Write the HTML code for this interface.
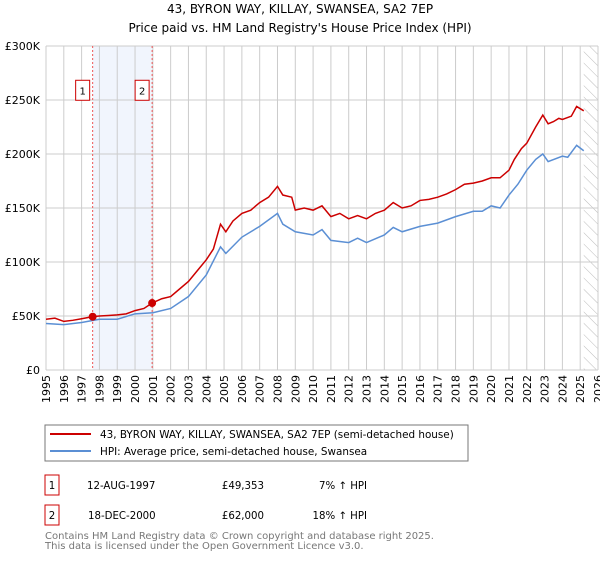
<!DOCTYPE html>
<html><head><meta charset="utf-8"><style>
body{margin:0;background:#fff;font-family:"DejaVu Sans","Liberation Sans",sans-serif;}
svg text{font-family:"DejaVu Sans","Liberation Sans",sans-serif;}
</style></head><body>
<svg id="chart" width="600" height="560" xmlns="http://www.w3.org/2000/svg">
<defs><pattern id="hatch" width="8" height="8" patternUnits="userSpaceOnUse" patternTransform="rotate(-45)"><line x1="0" y1="0" x2="0" y2="8" stroke="#bbb" stroke-width="1"/></pattern></defs>
<text x="300" y="13" text-anchor="middle" font-size="12">43, BYRON WAY, KILLAY, SWANSEA, SA2 7EP</text>
<text x="300" y="32" text-anchor="middle" font-size="12">Price paid vs. HM Land Registry's House Price Index (HPI)</text>
<g id="grid"></g><g id="marks"></g><g id="axes"></g>
<rect x="45" y="425" width="423" height="36" fill="#fff" stroke="#777"/>
<line x1="50" y1="434" x2="91" y2="434" stroke="#cc0000" stroke-width="2"/>
<text x="100" y="438" font-size="10.4">43, BYRON WAY, KILLAY, SWANSEA, SA2 7EP (semi-detached house)</text>
<line x1="50" y1="451" x2="91" y2="451" stroke="#5b8fd4" stroke-width="2"/>
<text x="100" y="455" font-size="10.4">HPI: Average price, semi-detached house, Swansea</text>
<g font-size="10.2">
<rect x="45" y="475" width="14" height="20" fill="none" stroke="#cc0000"/><text x="52" y="489" text-anchor="middle">1</text>
<text x="87" y="489">12-AUG-1997</text><text x="264" y="489" text-anchor="end">£49,353</text><text x="367" y="489" text-anchor="end">7% ↑ HPI</text>
<rect x="45" y="505" width="14" height="20" fill="none" stroke="#cc0000"/><text x="52" y="519" text-anchor="middle">2</text>
<text x="88" y="519">18-DEC-2000</text><text x="264" y="519" text-anchor="end">£62,000</text><text x="367" y="519" text-anchor="end">18% ↑ HPI</text>
</g>
<text x="45" y="539" font-size="10" fill="#777">Contains HM Land Registry data © Crown copyright and database right 2025.</text>
<text x="45" y="549" font-size="10" fill="#777">This data is licensed under the Open Government Licence v3.0.</text>
</svg>
<script>
const years=[1995,1996,1997,1998,1999,2000,2001,2002,2003,2004,2005,2006,2007,2008,2009,2010,2011,2012,2013,2014,2015,2016,2017,2018,2019,2020,2021,2022,2023,2024,2025,2026];
const yTicks=[0,50000,100000,150000,200000,250000,300000];
const yTickLabels=["£0","£50K","£100K","£150K","£200K","£250K","£300K"];
const saleDates=[1997.62,2000.96];
const salePrices=[49353,62000];
const saleLabels=["1","2"];
const redT=[1995,1995.5,1996,1996.5,1997,1997.62,1998,1998.5,1999,1999.5,2000,2000.5,2000.96,2001.5,2002,2002.5,2003,2003.5,2004,2004.4,2004.8,2005.1,2005.5,2006,2006.5,2007,2007.5,2008,2008.3,2008.8,2009,2009.5,2010,2010.5,2011,2011.5,2012,2012.5,2013,2013.5,2014,2014.5,2015,2015.5,2016,2016.5,2017,2017.5,2018,2018.5,2019,2019.5,2020,2020.5,2021,2021.3,2021.7,2022,2022.5,2022.9,2023.2,2023.5,2023.8,2024,2024.5,2024.8,2025.2];
const redV=[47,48,45,46,47.5,49.4,50,50.5,51,52,55,57,62,66,68,75,82,92,102,112,135,128,138,145,148,155,160,170,162,160,148,150,148,152,142,145,140,143,140,145,148,155,150,152,157,158,160,163,167,172,173,175,178,178,185,195,205,210,225,236,228,230,233,232,235,244,240];
const blueT=[1995,1996,1997,1998,1999,2000,2001,2002,2003,2004,2004.8,2005.1,2006,2007,2008,2008.3,2009,2010,2010.5,2011,2012,2012.5,2013,2014,2014.5,2015,2016,2017,2018,2019,2019.5,2020,2020.5,2021,2021.5,2022,2022.5,2022.9,2023.2,2024,2024.3,2024.8,2025.2];
const blueV=[43,42,44,47,47,52,53,57,68,88,114,108,123,133,145,135,128,125,130,120,118,122,118,125,132,128,133,136,142,147,147,152,150,162,172,185,195,200,193,198,197,208,203];
const L=46,R=598,T=46,B=370;
const x=t=>L+(t-1995)/(2026-1995)*(R-L);
const y=v=>B-v/300000*(B-T);
const NS="http://www.w3.org/2000/svg";
function mk(p,tag,a){const e=document.createElementNS(NS,tag);for(const k in a)e.setAttribute(k,a[k]);p.appendChild(e);return e;}
const grid=document.getElementById('grid'),marks=document.getElementById('marks'),axes=document.getElementById('axes');
const sh=mk(grid,'rect',{x:x(saleDates[0]),y:T,width:x(saleDates[1])-x(saleDates[0]),height:B-T,fill:'#eef3fc',opacity:0.8});


const ht=mk(grid,'rect',{x:x(2025.2),y:T,width:R-x(2025.2),height:B-T,fill:'url(#hatch)'});


years.forEach(yr=>{const g=mk(grid,'line',{x1:x(yr),x2:x(yr),y1:T,y2:B,stroke:'#ccc'});


const t=mk(axes,'text',{x:0,y:0,'font-size':11,transform:`translate(${x(yr)+4},${B+5}) rotate(-90)`,'text-anchor':'end'});t.textContent=yr;

});
yTicks.forEach((v,i)=>{const g=mk(grid,'line',{x1:L,x2:R,y1:y(v),y2:y(v),stroke:'#ccc'});


const t=mk(axes,'text',{x:L-6,y:y(v)+4,'font-size':11,'text-anchor':'end'});t.textContent=yTickLabels[i];

});
saleDates.forEach((d,i)=>{const l=mk(marks,'line',{x1:x(d),x2:x(d),y1:T,y2:B,stroke:'#ee5555','stroke-dasharray':'2,2'});


const r=mk(marks,'rect',{x:x(d)-17,y:y(259000)-10,width:14,height:20,fill:'#fff',stroke:'#cc0000'});


const t=mk(marks,'text',{x:x(d)-10,y:y(259000)+4,'font-size':10,'text-anchor':'middle'});t.textContent=saleLabels[i];

});
function line(ts,vs,c,name){const p=mk(marks,'polyline',{points:ts.map((t,i)=>x(t)+','+y(vs[i]*1000)).join(' '),fill:'none',stroke:c,'stroke-width':1.5});

}
line(blueT,blueV,'#5b8fd4','hpi-line');
line(redT,redV,'#cc0000','property-line');
saleDates.forEach((d,i)=>{const c=mk(marks,'circle',{cx:x(d),cy:y(salePrices[i]),r:4,fill:'#cc0000'});

});
</script>
</body></html>
